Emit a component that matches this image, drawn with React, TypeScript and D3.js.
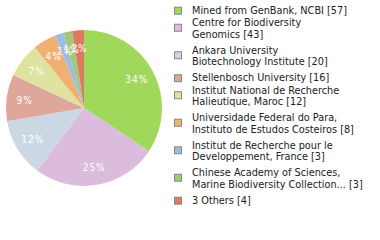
import React from "react";
import * as d3 from "d3";

const labels: string[][] = [
  ["Mined from GenBank, NCBI [57]"],
  ["Centre for Biodiversity", "Genomics [43]"],
  ["Ankara University", "Biotechnology Institute [20]"],
  ["Stellenbosch University [16]"],
  ["Institut National de Recherche", "Halieutique, Maroc [12]"],
  ["Universidade Federal do Para,", "Instituto de Estudos Costeiros [8]"],
  ["Institut de Recherche pour le", "Developpement, France [3]"],
  ["Chinese Academy of Sciences,", "Marine Biodiversity Collection... [3]"],
  ["3 Others [4]"],
];
const values: number[] = [57, 43, 20, 16, 12, 8, 3, 3, 4];
const colors: string[] = [
  "#9fd85b", "#dcbcdd", "#cbd8e4", "#dfa69c", "#dee39f",
  "#f0b072", "#9cbde2", "#a2c87b", "#de7a62",
];

const FONT = "'DejaVu Sans Condensed', 'DejaVu Sans', sans-serif";

export default function App() {
  const W = 380, H = 240;
  const cx = 84, cy = 108, r = 78;
  const total = d3.sum(values);
  const pie = d3.pie<number>().sort(null).value((d) => d);
  const arcs = pie(values);
  const arc = d3.arc<d3.PieArcDatum<number>>().innerRadius(0).outerRadius(r);
  const labelArc = d3.arc<d3.PieArcDatum<number>>().innerRadius(60).outerRadius(60);

  // legend layout
  const lineH = 11.5;
  let y = 6;
  const items = labels.map((lines, i) => {
    const top = y;
    const h = lines.length === 1 ? 12.5 : 27.5;
    y += h;
    return { lines, top, i };
  });

  return (
    <svg width={W} height={H} style={{ position: "absolute", left: 0, top: 0 }}>
      <rect width={W} height={H} fill="#fff" />
      <g transform={`translate(${cx},${cy})`}>
        {arcs.map((a, i) => (
          <path key={i} d={arc(a) || ""} fill={colors[i]} />
        ))}
        {arcs.map((a, i) => {
          const [x, yy] = labelArc.centroid(a);
          const pct = Math.floor((values[i] / total) * 100);
          return (
            <text
              key={i}
              x={x}
              y={yy}
              textAnchor="middle"
              dominantBaseline="central"
              fill="#fff"
              fontFamily={FONT}
              fontSize={10}
              letterSpacing={1}
            >
              {pct}%
            </text>
          );
        })}
      </g>
      <g>
        {items.map(({ lines, top, i }) => {
          const capBottom = top + (lines.length - 1) * lineH + 7;
          const mid = (top + capBottom) / 2 + (lines.length === 1 ? 1.2 : 0);
          return (
            <g key={i}>
              <rect
                x={174.5}
                y={mid - 3.5}
                width={7}
                height={7}
                fill={colors[i]}
                stroke="#888"
                strokeWidth={1}
              />
              {lines.map((ln, j) => (
                <text
                  key={j}
                  x={192}
                  y={top + j * lineH + 7.5}
                  fontFamily={FONT}
                  fontSize={10.8}
                  fill="#222"
                >
                  {ln}
                </text>
              ))}
            </g>
          );
        })}
      </g>
    </svg>
  );
}
